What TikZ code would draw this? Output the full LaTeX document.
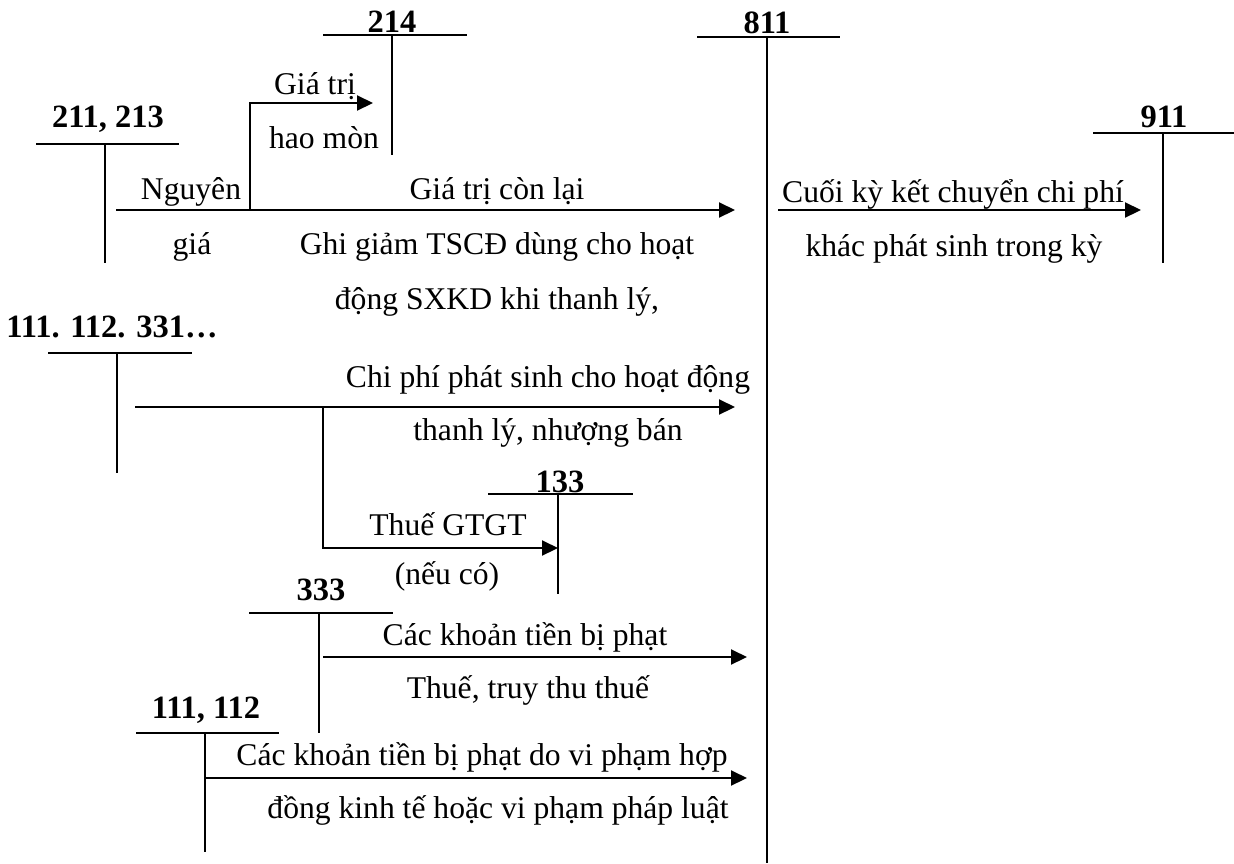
\documentclass[tikz,border=0pt]{standalone}
\usepackage{fontspec}
\setmainfont{Liberation Serif}
\usetikzlibrary{arrows.meta}

\begin{document}
\begin{tikzpicture}[
  x=0.02cm, y=-0.02cm,
  txt/.style={anchor=base, inner sep=0pt, font=\fontsize{18}{22}\selectfont},
  acc/.style={anchor=base, inner sep=0pt, font=\fontsize{18.5}{22}\selectfont\bfseries},
  tline/.style={line width=0.9pt},
  arr/.style={-{Triangle[length=0.32cm, width=0.3cm]}, line width=1.2pt}
]
\useasboundingbox (0,0) rectangle (1234,863);

% T accounts
\node[acc] (n214) at (392,32) {214};
\draw[tline] (323,35) -- (467,35);
\draw[tline] (392,35) -- (392,155);

\node[acc] (n811) at (767,33) {811};
\draw[tline] (697,37) -- (840,37);
\draw[tline] (767,37) -- (767,863);

\node[acc] (n211) at (108,127) {211, 213};
\draw[tline] (36,144) -- (179,144);
\draw[tline] (105,144) -- (105,263);

\node[acc] (n911) at (1164,127) {911};
\draw[tline] (1093,133) -- (1234,133);
\draw[tline] (1163,133) -- (1163,263);

\node[acc] (n111a) at (112,337) {111. 112. 331…};
\draw[tline] (48,353) -- (192,353);
\draw[tline] (117,353) -- (117,473);

\node[acc] (n133) at (560,492) {133};
\draw[tline] (488,494) -- (633,494);
\draw[tline] (558,494) -- (558,594);

\node[acc] (n333) at (321,600) {333};
\draw[tline] (249,613) -- (393,613);
\draw[tline] (319,613) -- (319,733);

\node[acc] (n111b) at (206,718) {111, 112};
\draw[tline] (136,733) -- (279,733);
\draw[tline] (205,733) -- (205,852);

% arrow ends
\coordinate (s211) at (116,210);
\coordinate (b211) at (250,210);
\coordinate (e214) at (373,103);
\coordinate (e811a) at (735,210);
\coordinate (s811) at (778,210);
\coordinate (e911) at (1141,210);
\coordinate (s111a) at (135,407);
\coordinate (b111) at (323,407);
\coordinate (e811b) at (735,407);
\coordinate (e133) at (558,548);
\coordinate (s333) at (323,657);
\coordinate (e811c) at (747,657);
\coordinate (s111b) at (205,778);
\coordinate (e811d) at (747,778);

\draw[arr] (s211) -- (e811a);
\draw[arr] (b211) |- (e214);
\draw[arr] (s811) -- (e911);
\draw[arr] (s111a) -- (e811b);
\draw[arr] (b111) |- (e133);
\draw[arr] (s333) -- (e811c);
\draw[arr] (s111b) -- (e811d);

% labels
\node[txt] (gtri) at (315,94) {Giá trị};
\node[txt] (hmon) at (324,148) {hao mòn};
\node[txt] (nguyen) at (191,199) {Nguyên};
\node[txt] (gia) at (192,254) {giá};
\node[txt] (conlai) at (497,199) {Giá trị còn lại};
\node[txt] (ghi1) at (497,254) {Ghi giảm TSCĐ dùng cho hoạt};
\node[txt] (ghi2) at (497,309) {động SXKD khi thanh lý,};
\node[txt] (kc1) at (953,202) {Cuối kỳ kết chuyển chi phí};
\node[txt] (kc2) at (954,256) {khác phát sinh trong kỳ};
\node[txt] (cp1) at (548,387) {Chi phí phát sinh cho hoạt động};
\node[txt] (cp2) at (548,440) {thanh lý, nhượng bán};
\node[txt] (vat1) at (448,535) {Thuế GTGT};
\node[txt] (vat2) at (447,584) {(nếu có)};
\node[txt] (phat1) at (525,645) {Các khoản tiền bị phạt};
\node[txt] (phat2) at (528,698) {Thuế, truy thu thuế};
\node[txt] (vp1) at (482,765) {Các khoản tiền bị phạt do vi phạm hợp};
\node[txt] (vp2) at (498,818) {đồng kinh tế hoặc vi phạm pháp luật};

\end{tikzpicture}
\end{document}
